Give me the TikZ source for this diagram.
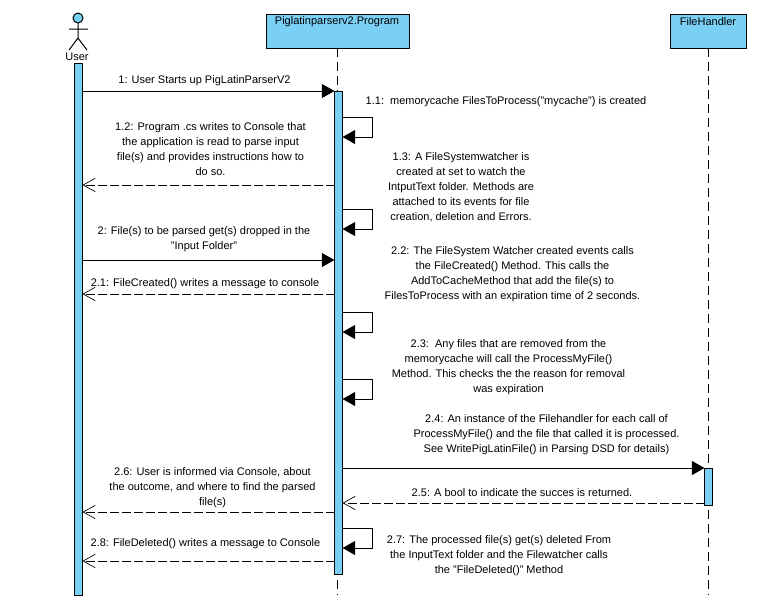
\documentclass[tikz,border=0pt]{standalone}
\usepackage{fontspec}
\setmainfont{Liberation Sans}
\usetikzlibrary{arrows.meta}
\definecolor{uml}{HTML}{7ACFF5}
\tikzset{
  x=0.75pt,y=-0.75pt,
  bar/.style={draw=black,fill=uml,line width=0.75pt,minimum width=6pt,inner sep=0pt,outer sep=0pt,anchor=north west},
  head/.style={draw=black,fill=uml,line width=0.75pt,inner sep=0pt,outer sep=0pt,anchor=north west,align=center},
  life/.style={line width=0.75pt,dash pattern=on 6.5pt off 4pt},
  call/.style={line width=0.75pt,-{Triangle[length=9.5pt,width=10.5pt,fill=black]}},
  ret/.style={line width=0.75pt,dash pattern=on 6.5pt off 2.5pt,-{Straight Barb[length=9pt,width=10pt,line width=0.5pt]}},
  lbl/.style={font=\fontsize{8.25}{11.25}\selectfont,align=center,inner sep=0pt},
}
\begin{document}
\begin{tikzpicture}
\useasboundingbox (0,0) rectangle (780,612);
\fill[white] (0,0) rectangle (780,612);
% actor
\node[draw=black,fill=uml,circle,minimum size=7.5pt,inner sep=0pt,outer sep=0pt,line width=0.75pt] (actorhead) at (78,18) {};
\coordinate (actorhip) at (78,38);
\coordinate (armL) at (69,29);
\coordinate (armR) at (88,29);
\coordinate (legL) at (69,50);
\coordinate (legR) at (87,50);
\draw[line width=0.75pt] (actorhead.south) -- (actorhip) (armL) -- (armR) (legL) -- (actorhip) -- (legR);
\node[lbl] (actorname) at (77,57) {User};
% heads
\node[head,minimum width=107.25pt,minimum height=25.5pt] (ph) at (266,14) {};
\node[lbl,anchor=center] (phl) at (337,22) {Piglatinparserv2.Program};
\node[head,minimum width=57pt,minimum height=25.5pt] (fh) at (670,14) {};
\node[lbl,anchor=center] (fhl) at (708,22) {FileHandler};
% bars
\node[bar,minimum height=399pt] (ua) at (74.5,63) {};
\coordinate (pend) at (337.5,595);
\coordinate (fend) at (708,595);
\draw[life] (ph.south) -- (pend);
\draw[life] (fh.south) -- (fend);
\node[bar,minimum height=362.25pt] (pa) at (334.5,91) {};
\node[bar,minimum height=27.75pt] (fa) at (704.5,468) {};
% messages
\draw[call] (ua.east |- 0,91) -- (pa.west |- 0,91);
\draw[ret] (pa.west |- 0,185) -- (ua.east |- 0,185);
\draw[call] (ua.east |- 0,260) -- (pa.west |- 0,260);
\draw[ret] (pa.west |- 0,294) -- (ua.east |- 0,294);
\draw[call] (pa.east |- 0,468) -- (fa.west |- 0,468);
\draw[ret] (fa.west |- 0,503) -- (pa.east |- 0,503);
\draw[ret] (pa.west |- 0,512) -- (ua.east |- 0,512);
\draw[ret] (pa.west |- 0,561) -- (ua.east |- 0,561);
% self calls
\draw[call] (pa.east |- 0,117) -- (372.5,117) -- (372.5,137) -- (pa.east |- 0,137);
\draw[call] (pa.east |- 0,209) -- (372.5,209) -- (372.5,229) -- (pa.east |- 0,229);
\draw[call] (pa.east |- 0,312) -- (372.5,312) -- (372.5,332) -- (pa.east |- 0,332);
\draw[call] (pa.east |- 0,379) -- (372.5,379) -- (372.5,399) -- (pa.east |- 0,399);
\draw[call] (pa.east |- 0,528) -- (372.5,528) -- (372.5,548) -- (pa.east |- 0,548);
% labels
\node[lbl] (m1) at (204.5,81) {1: User Starts up PigLatinParserV2};
\node[lbl] (m11) at (506,102) {1.1:\ \ memorycache FilesToProcess("mycache") is created};
\node[lbl] (m12) at (210.5,149) {1.2: Program .cs writes to Console that\\the application is read to parse input\\file(s) and provides instructions how to\\do so.};
\node[lbl] (m13) at (461,187.5) {1.3: A FileSystemwatcher is\\created at set to watch the\\IntputText folder. Methods are\\attached to its events for file\\creation, deletion and Errors.};
\node[lbl] (m2) at (204,239) {2: File(s) to be parsed get(s) dropped in the\\"Input Folder"};
\node[lbl] (m21) at (205,284) {2.1: FileCreated() writes a message to console};
\node[lbl] (m22) at (512.5,274) {2.2: The FileSystem Watcher created events calls\\the FileCreated() Method. This calls the\\AddToCacheMethod that add the file(s) to\\FilesToProcess with an expiration time of 2 seconds.};
\node[lbl] (m23) at (508.5,367) {2.3:\ \ Any files that are removed from the\\memorycache will call the ProcessMyFile()\\Method. This checks the the reason for removal\\was expiration};
\node[lbl] (m24) at (546.5,434.5) {2.4: An instance of the Filehandler for each call of\\ProcessMyFile() and the file that called it is processed.\\See WritePigLatinFile() in Parsing DSD for details)};
\node[lbl] (m25) at (522,493) {2.5: A bool to indicate the succes is returned.};
\node[lbl] (m26) at (212.5,488) {2.6: User is informed via Console, about\\the outcome, and where to find the parsed\\file(s)};
\node[lbl] (m27) at (499,556) {2.7: The processed file(s) get(s) deleted From\\the InputText folder and the Filewatcher calls\\the "FileDeleted()" Method};
\node[lbl] (m28) at (205.5,544) {2.8: FileDeleted() writes a message to Console};
\end{tikzpicture}
\end{document}
